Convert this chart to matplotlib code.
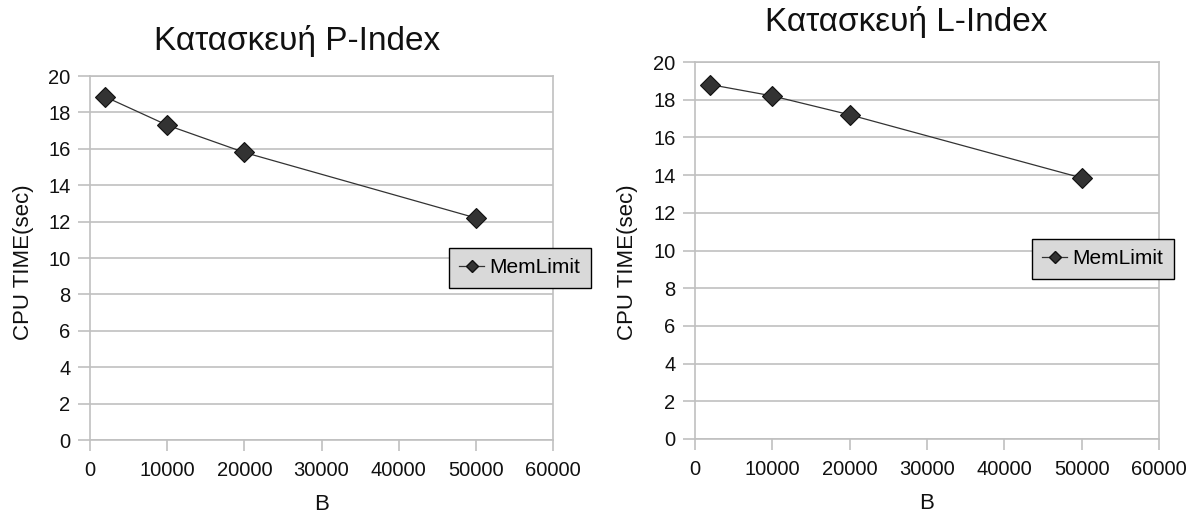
import matplotlib
matplotlib.use("Agg")
import matplotlib.pyplot as plt
from matplotlib.lines import Line2D

plt.rcParams['font.family'] = ['Liberation Sans', 'DejaVu Sans']

# Buffer size B and measured build times
b_values = [2000, 10000, 20000, 50000]
p_index_time = [18.85, 17.3, 15.8, 12.2]
l_index_time = [18.8, 18.2, 17.2, 13.85]

titles = ["Κατασκευή P-Index", "Κατασκευή L-Index"]
series_label = "MemLimit"
x_label = "B"
y_label = "CPU TIME(sec)"
x_ticks = [0, 10000, 20000, 30000, 40000, 50000, 60000]
y_ticks = [0, 2, 4, 6, 8, 10, 12, 14, 16, 18, 20]

W, H = 1198, 519
fig = plt.figure(figsize=(W / 100, H / 100), dpi=100)


def px_rect(x0, y0, x1, y1):
    return [x0 / W, 1 - y1 / H, (x1 - x0) / W, (y1 - y0) / H]


grid_col = "#c0c0c0"
mark_face = "#333333"

panels = [
    dict(rect=px_rect(90, 76, 553, 440), data=p_index_time, title=titles[0],
         title_xy=(297, 41), leg=(449, 248), ylab_x=24),
    dict(rect=px_rect(695, 62, 1159, 439), data=l_index_time, title=titles[1],
         title_xy=(906, 22), leg=(1032, 239), ylab_x=628),
]

for p in panels:
    ax = fig.add_axes(p["rect"])
    ax.plot(b_values, p["data"], color="#333333", linewidth=0.9,
            marker="D", markersize=10.5, markerfacecolor=mark_face,
            markeredgecolor="#111111", markeredgewidth=0.8, zorder=3)
    ax.set_xlim(0, 60000)
    ax.set_ylim(0, 20)
    ax.set_xticks(x_ticks)
    ax.set_yticks(y_ticks)
    ax.set_xticklabels([str(t) for t in x_ticks])
    ax.set_yticklabels([str(t) for t in y_ticks])
    ax.yaxis.grid(True, color=grid_col, linewidth=1.2)
    ax.set_axisbelow(True)
    for s in ax.spines.values():
        s.set_color(grid_col)
        s.set_linewidth(1.2)
    ax.tick_params(axis="both", colors=grid_col, labelcolor="#111111",
                   labelsize=14.5, width=1.2)
    ax.tick_params(axis="y", length=9, pad=5)
    ax.tick_params(axis="x", length=8, pad=7)
    ax.set_xlabel(x_label, fontsize=16, color="#111111", labelpad=10)

    fig.text(p["ylab_x"] / W, 1 - 262 / H, y_label, rotation=90,
             ha="center", va="center", fontsize=16, color="#111111")
    fig.text(p["title_xy"][0] / W, 1 - p["title_xy"][1] / H, p["title"],
             ha="center", va="center", fontsize=24, color="#111111")

    handle = Line2D([], [], color="#333333", linewidth=0.9, marker="D",
                    markersize=6, markerfacecolor=mark_face,
                    markeredgecolor="#111111")
    leg = ax.legend([handle], [series_label], loc="upper left",
                    bbox_to_anchor=(p["leg"][0] / W, 1 - p["leg"][1] / H),
                    bbox_transform=fig.transFigure, borderaxespad=0,
                    fontsize=15, fancybox=False, framealpha=1,
                    handlelength=1.2, handletextpad=0.25, borderpad=0.5)
    frame = leg.get_frame()
    frame.set_facecolor("#d9d9d9")
    frame.set_edgecolor("#000000")
    frame.set_linewidth(1.0)
    leg.set_zorder(5)

fig.savefig("out.png", dpi=100)
